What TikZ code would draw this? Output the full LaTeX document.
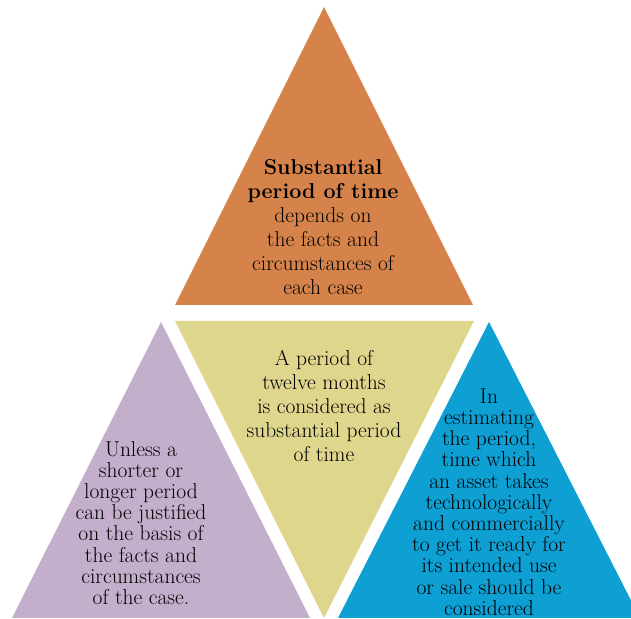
\documentclass[tikz,border=0pt]{standalone}
\usetikzlibrary{positioning}
\definecolor{toporange}{RGB}{213,131,74}
\definecolor{midyellow}{RGB}{223,214,141}
\definecolor{leftpurple}{RGB}{195,174,203}
\definecolor{rightblue}{RGB}{14,159,211}

\begin{document}
\begin{tikzpicture}[
  x=1bp, y=1bp,
  tri/.style={draw=none},
  txt/.style={align=center, inner sep=0pt, text=black,
              font=\fontsize{21.5bp}{24bp}\selectfont},
  txttight/.style={txt, font=\fontsize{21.5bp}{21.2bp}\selectfont}
]
  \useasboundingbox (0,0) rectangle (631,619);
  \clip (0,0) rectangle (631,619);
  % four triangles
  \fill[tri, toporange]  (324,612) -- (473,314) -- (175,314) -- cycle;
  \fill[tri, midyellow]  (175,298) -- (474,298) -- (324,1) -- cycle;
  \fill[tri, leftpurple] (161,297) -- (310,1) -- (12,1) -- cycle;
  \fill[tri, rightblue]  (489,297) -- (640,1) -- (338,1) -- cycle;
  % texts
  \node[txt] (toptext) at (323,392)
    {\textbf{Substantial}\\\textbf{period of time}\\depends on\\the facts and\\circumstances of\\each case};
  \node[txt] (midtext) at (324,213)
    {A period of\\twelve months\\is considered as\\substantial period\\of time};
  \node[txttight] (lefttext) at (141,96)
    {Unless a\\shorter or\\longer period\\can be justified\\on the basis of\\the facts and\\circumstances\\of the case.};
  \node[txttight] (righttext) at (489,117)
    {In\\estimating\\the period,\\time which\\an asset takes\\technologically\\and commercially\\to get it ready for\\its intended use\\or sale should be\\considered};
\end{tikzpicture}
\end{document}
